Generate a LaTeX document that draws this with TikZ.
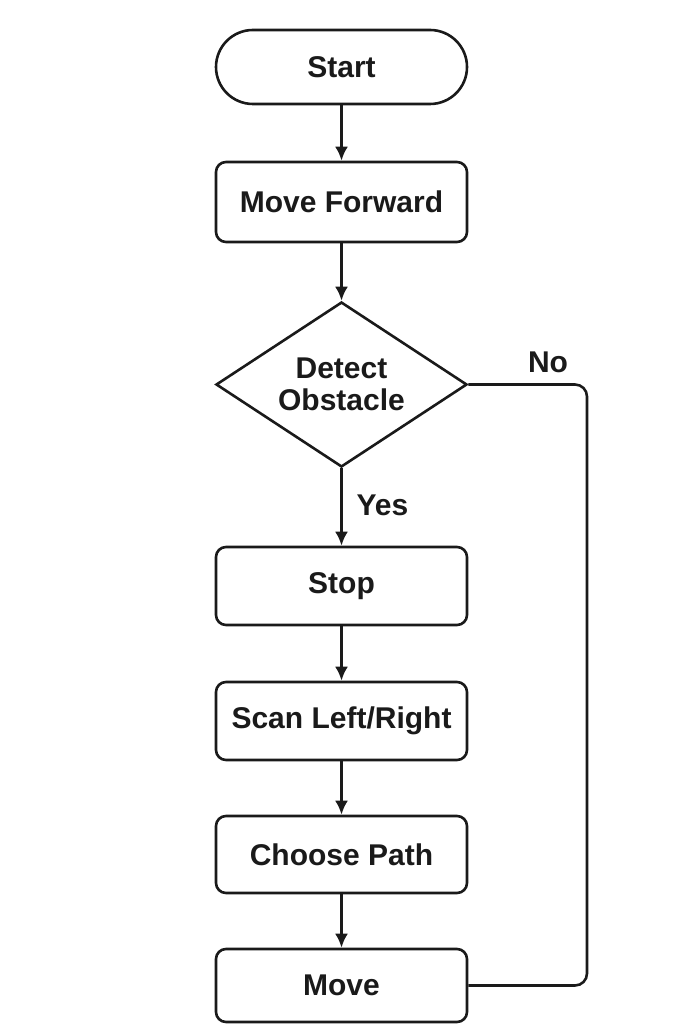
\documentclass[tikz,border=0pt]{standalone}
\usepackage{fontspec}
\setmainfont{Liberation Sans}
\usetikzlibrary{arrows.meta,shapes.geometric}
\definecolor{ink}{HTML}{1A1A1A}

\begin{document}
\begin{tikzpicture}[x=1pt,y=-1pt,>={Latex[length=14pt,width=13pt]},
  every node/.style={font=\fontsize{30}{34}\selectfont\bfseries,text=ink},
  proc/.style={draw=ink,line width=2.6pt,rounded corners=10pt,minimum width=251pt,inner sep=0pt},
  term/.style={proc,rounded corners=37pt,minimum height=74pt},
  decide/.style={draw=ink,line width=2.6pt,diamond,aspect=1.52,inner sep=0pt,
    minimum width=251pt,minimum height=165pt,align=center},
  flow/.style={->,draw=ink,line width=2.6pt}]
  \useasboundingbox (0,0) rectangle (683,1024);
  \node[term] (start) at (341.5,67) {Start};
  \node[proc,minimum height=80pt] (fwd) at (341.5,202) {Move Forward};
  \node[decide] (detect) at (341.5,384.5) {Detect\\[-2pt]Obstacle};
  \node[proc,minimum height=78pt] (stop) at (341.5,586) {Stop};
  \node[proc,minimum height=78pt] (scan) at (341.5,721) {Scan Left/Right};
  \node[proc,minimum height=77pt] (choose) at (341.5,854.5) {Choose Path};
  \node[proc,minimum height=73pt] (move) at (341.5,985.5) {Move};
  \foreach \a/\b in {start/fwd,fwd/detect,detect/stop,stop/scan,scan/choose,choose/move}{
    \draw[flow] (\a) -- (\b);
  }
  \node[anchor=west] (yes) at (353,505) {Yes};
  \coordinate (turn) at (587,384.5);
  \draw[draw=ink,line width=2.6pt,rounded corners=12pt]
    (detect.east) -- (turn) -- (turn |- move.east) -- (move.east);
  \node (no) at (548,362) {No};
\end{tikzpicture}
\end{document}
